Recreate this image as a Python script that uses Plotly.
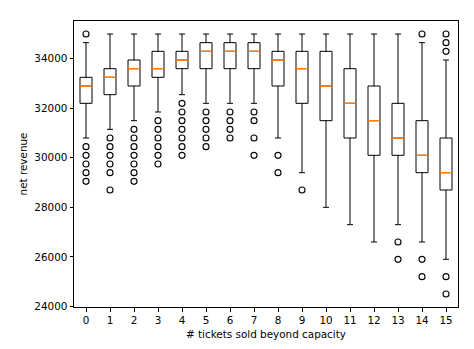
import plotly.graph_objects as go

categories = list(range(16))
tick_labels = [str(c) for c in categories]

q1 = [32200, 32550, 32900, 33250, 33600, 33600, 33600, 33600, 32900, 32200,
      31500, 30800, 30100, 30100, 29400, 28700]
median = [32900, 33250, 33600, 33600, 33950, 34300, 34300, 34300, 33950, 33600,
          32900, 32200, 31500, 30800, 30100, 29400]
q3 = [33250, 33600, 33950, 34300, 34300, 34650, 34650, 34650, 34300, 34300,
      34300, 33600, 32900, 32200, 31500, 30800]
lower_whisker = [30800, 31150, 31500, 31850, 32550, 32200, 32200, 32200, 30800, 29400,
                 28000, 27300, 26600, 27300, 26600, 25900]
upper_whisker = [34650, 35000, 35000, 35000, 35000, 35000, 35000, 35000, 35000, 35000,
                 35000, 35000, 35000, 35000, 34650, 33950]
outliers = [
    [35000, 30450, 30100, 29750, 29400, 29050],
    [30800, 30450, 30100, 29750, 29400, 28700],
    [31150, 30800, 30450, 30100, 29750, 29400, 29050],
    [31500, 31150, 30800, 30450, 30100, 29750],
    [32200, 31850, 31500, 31150, 30800, 30450, 30100],
    [31850, 31500, 31150, 30800, 30450],
    [31850, 31500, 31150, 30800],
    [31850, 31500, 30800, 30100],
    [30100, 29400],
    [28700],
    [],
    [],
    [],
    [26600, 25900],
    [35000, 25900, 25200],
    [35000, 34650, 34300, 25200, 24500],
]

y_ticks = [24000, 26000, 28000, 30000, 32000, 34000]

font = dict(family="DejaVu Sans", size=10.4, color="black")

fig = go.Figure()

fig.add_trace(go.Box(
    x=categories, q1=q1, median=median, q3=q3,
    lowerfence=lower_whisker, upperfence=upper_whisker,
    width=0.5, whiskerwidth=0.5, boxpoints=False,
    line=dict(color="black", width=1), fillcolor="rgba(0,0,0,0)",
    showlegend=False, hoverinfo="skip",
))

# median lines (orange) drawn as degenerate boxes
fig.add_trace(go.Box(
    x=categories, q1=median, median=median, q3=median,
    lowerfence=median, upperfence=median,
    width=0.5, whiskerwidth=0, boxpoints=False,
    line=dict(color="#ff7f0e", width=1), fillcolor="rgba(0,0,0,0)",
    showlegend=False, hoverinfo="skip",
))

ox, oy = [], []
for c, vals in zip(categories, outliers):
    for v in vals:
        ox.append(c)
        oy.append(v)

fig.add_trace(go.Scatter(
    x=ox, y=oy, mode="markers",
    marker=dict(symbol="circle-open", size=6, color="black", line=dict(width=1.1, color="black")),
    showlegend=False, hoverinfo="skip",
))

fig.update_layout(
    width=474, height=349,
    margin=dict(l=74, r=16, t=21, b=42),
    paper_bgcolor="white", plot_bgcolor="white",
    boxmode="overlay",
    font=font,
    showlegend=False,
)

fig.update_xaxes(
    range=[-0.5, 15.5], tickvals=categories, ticktext=tick_labels,
    showgrid=False, zeroline=False,
    showline=True, mirror=True, linecolor="black", linewidth=0.8,
    ticks="outside", ticklen=3.6, tickwidth=0.8, tickcolor="black",
    tickfont=font,
    title=dict(text="# tickets sold beyond capacity", font=font, standoff=5),
)
fig.update_yaxes(
    range=[23975, 35525], tickvals=y_ticks, tickformat="d",
    showgrid=False, zeroline=False,
    showline=True, mirror=True, linecolor="black", linewidth=0.8,
    ticks="outside", ticklen=3.6, tickwidth=0.8, tickcolor="black",
    tickfont=font,
    title=dict(text="net revenue", font=font, standoff=4),
)

fig.write_html("out.html")
